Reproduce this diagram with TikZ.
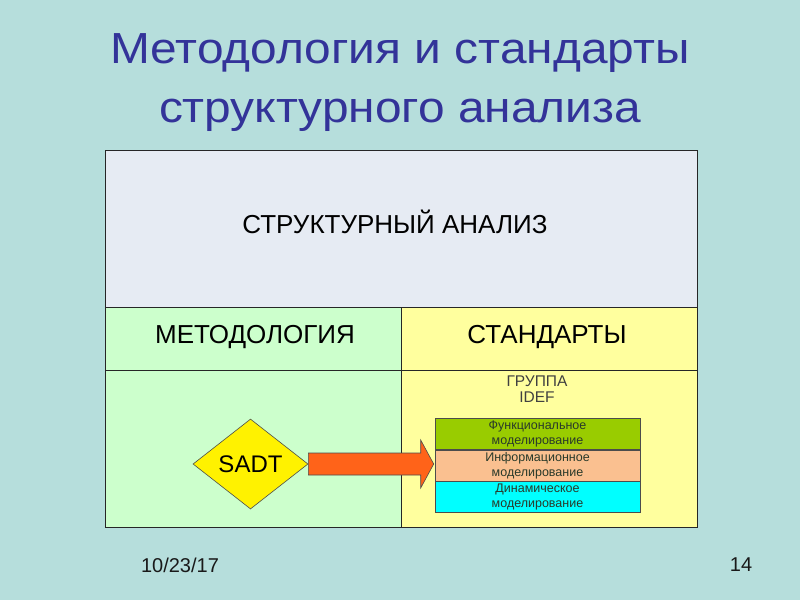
\documentclass[tikz,border=0pt]{standalone}
\usepackage{fontspec}
\setmainfont{Liberation Sans}
\newfontfamily\titlefont[FakeStretch=1.1]{Liberation Sans}
\usetikzlibrary{shapes.geometric,calc}
\definecolor{bg}{HTML}{B6DEDC}
\definecolor{titlec}{HTML}{333399}
\definecolor{topc}{HTML}{E6EBF3}
\definecolor{greenc}{HTML}{CCFFCC}
\definecolor{yellc}{HTML}{FFFF9E}
\definecolor{funcc}{HTML}{99CC00}
\definecolor{infoc}{HTML}{FAC090}
\definecolor{dync}{HTML}{00FFFF}
\definecolor{arrc}{HTML}{FF6319}
\definecolor{txtc}{HTML}{333333}
\definecolor{subtxt}{HTML}{2A3A2A}
\begin{document}
\begin{tikzpicture}[x=1pt,y=-1pt,
  cell/.style={draw=black!85,line width=0.8pt},
  headtxt/.style={font=\fontsize{26}{28}\selectfont,text=black,inner sep=0pt},
  titletxt/.style={titlec,font=\titlefont\fontsize{43.5}{48}\selectfont,anchor=base,inner sep=0pt},
  sub/.style={draw=black!70,line width=0.6pt,minimum width=205pt,minimum height=31pt,inner sep=0pt,align=center,font=\fontsize{12.5}{15.5}\selectfont,text=subtxt},
  foot/.style={text=black!90,font=\fontsize{20}{22}\selectfont,inner sep=0pt},
]
\useasboundingbox[fill=bg] (0,0) rectangle (800,600);
% title
\node[titletxt] (title1) at (400,63) {Методология и стандарты};
\node[titletxt] (title2) at (400,122) {структурного анализа};
% table cells
\fill[topc] (105,150) rectangle (697,307);
\fill[greenc] (105,307) rectangle (401,527);
\fill[yellc] (401,307) rectangle (697,527);
\draw[cell] (105,150) rectangle (697,527);
\draw[cell] (105,307) -- (697,307);
\draw[cell] (105,370) -- (697,370);
\draw[cell] (401,307) -- (401,527);
\node[headtxt] (sa) at (395,222) {СТРУКТУРНЫЙ АНАЛИЗ};
\node[headtxt] (meth) at (255,337) {МЕТОДОЛОГИЯ};
\node[headtxt] (std) at (547,337) {СТАНДАРТЫ};
\node[align=center,text=black!75,inner sep=0pt,font=\fontsize{15.5}{16}\selectfont] (grp) at (537,389) {ГРУППА\\IDEF};
% sub boxes
\node[sub,fill=funcc] (func) at (537.5,434) {Функциональное\\моделирование};
\node[sub,fill=infoc,anchor=north] (info) at (func.south) {Информационное\\моделирование};
\node[sub,fill=dync,anchor=north] (dyn) at (info.south) {Динамическое\\моделирование};
% diamond
\node[diamond,draw=black!70,line width=0.6pt,fill=yellow,minimum width=115pt,minimum height=90pt,inner sep=0pt,font=\fontsize{24}{26}\selectfont] (sadt) at (250.5,464) {SADT};
% arrow
\coordinate (tip) at ($(info.west |- sadt.east)+(-1,0)$);
\draw[fill=arrc,draw=black!70,line width=0.6pt]
  ($(sadt.east)+(0,-11)$) -- ($(tip)+(-13,-11)$) -- ($(tip)+(-13,-24)$) -- (tip)
  -- ($(tip)+(-13,24)$) -- ($(tip)+(-13,11)$) -- ($(sadt.east)+(0,11)$) -- cycle;
% footer
\node[foot] (date) at (180,565) {10/23/17};
\node[foot] (page) at (741,565) {14};
\end{tikzpicture}
\end{document}
